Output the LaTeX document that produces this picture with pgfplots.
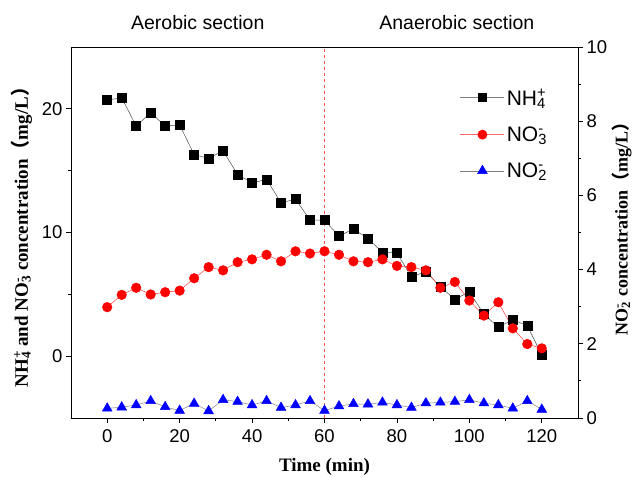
\documentclass[border=0pt]{standalone}
\usepackage{fontspec}
\setmainfont{Liberation Sans}
\newfontfamily\serif{Liberation Serif}
\newfontfamily\cjk{Noto Sans CJK SC}
\usepackage{pgfplots}
\pgfplotsset{compat=1.18}
\newcommand\ch[2]{\rlap{\textsuperscript{#2}}\textsubscript{#1}}
\begin{document}
\begin{tikzpicture}
\path[use as bounding box] (-71pt,-59pt) rectangle (567pt,418pt);
\pgfplotsset{
  every axis/.append style={
    scale only axis, width=507pt, height=371pt,
    xmin=-10, xmax=130,
    tick align=outside,
    major tick length=5pt, minor tick length=3pt,
    axis line style={line width=0.9pt},
    every tick/.style={line width=0.8pt, black},
    /pgf/number format/assume math mode=true,
    tick label style={font=\fontsize{18.5}{21}\selectfont},
    label style={font=\serif\bfseries\fontsize{19}{22}\selectfont},
  },
  legend image code/.code={\draw[mark repeat=2,mark phase=2,#1]
    plot coordinates {(0pt,0pt) (22pt,0pt) (44pt,0pt)};},
}
\begin{axis}[
  ymin=-5, ymax=25,
  xtick={0,20,...,120}, minor x tick num=1,
  ytick={0,10,20}, minor y tick num=1,
  xtick pos=bottom, ytick pos=left,
  xlabel={Time (min)},
  ylabel={NH\ch{4}{+} and NO\ch{3}{-} concentration{\cjk（}mg/L{\cjk）}},
  xlabel style={yshift=-9pt},
  ylabel style={yshift=3pt},
  xticklabel style={yshift=-3pt},
  clip=false,
]
\addplot[red!70, dashed, line width=0.5pt] coordinates {(60,-5) (60,25)};
\addplot[gray!60!black, line width=0.5pt, mark=square*, mark size=4.5pt,
  mark options={solid, fill=black, draw=black}] coordinates {
(0,20.7) (4,20.9) (8,18.6) (12,19.7) (16,18.6) (20,18.7) (24,16.3) (28,16.0)
(32,16.6) (36,14.7) (40,14.0) (44,14.3) (48,12.4) (52,12.7) (56,11.0) (60,11.0)
(64,9.7) (68,10.3) (72,9.5) (76,8.4) (80,8.35) (84,6.4) (88,6.85) (92,5.6)
(96,4.6) (100,5.2) (104,3.4) (108,2.35) (112,2.95) (116,2.46) (120,0.1)
};
\addplot[red!75, line width=0.5pt, mark=*, mark size=4.8pt,
  mark options={solid, fill=red, draw=red}] coordinates {
(0,3.96) (4,4.96) (8,5.53) (12,4.99) (16,5.17) (20,5.3) (24,6.3) (28,7.2)
(32,6.94) (36,7.6) (40,7.83) (44,8.2) (48,7.67) (52,8.48) (56,8.3) (60,8.48)
(64,8.2) (68,7.67) (72,7.6) (76,7.83) (80,7.3) (84,7.2) (88,6.94) (92,5.53)
(96,6.0) (100,4.5) (104,3.28) (108,4.36) (112,2.25) (116,0.98) (120,0.63)
};
\node[font=\fontsize{19.5}{22}\selectfont, anchor=base] at (rel axis cs:0.25,1) [yshift=17pt] {Aerobic section};
\node[font=\fontsize{19.5}{22}\selectfont, anchor=base] at (rel axis cs:0.761,1) [yshift=17pt] {Anaerobic section};
\end{axis}
\begin{axis}[
  ymin=0, ymax=10,
  axis y line*=right, axis x line=none,
  ytick={0,2,...,10}, minor y tick num=1,
  ylabel={NO\ch{2}{-} concentration{\cjk（}mg/L{\cjk）}},
  ylabel style={xshift=8pt, yshift=2pt, font=\serif\bfseries\fontsize{18}{22}\selectfont},
  legend style={draw=none, fill=none, at={(0.761,0.898)}, anchor=north west,
    row sep=16pt, legend cell align=left},
  legend style={font=\fontsize{21}{24}\selectfont},
]
\addlegendimage{gray, line width=0.8pt, mark=square*, mark size=4pt,
  mark options={fill=black, draw=black}}
\addlegendentry{NH\ch{4}{+}}
\addlegendimage{red!60, line width=0.8pt, mark=*, mark size=4.5pt,
  mark options={fill=red, draw=red}}
\addlegendentry{NO\ch{3}{-}}
\addplot[gray, line width=0.5pt, mark=triangle*, mark size=5.6pt,
  mark options={solid, fill=blue, draw=blue}] coordinates {
(0,0.26) (4,0.29) (8,0.35) (12,0.46) (16,0.30) (20,0.20) (24,0.39) (28,0.19)
(32,0.49) (36,0.44) (40,0.35) (44,0.46) (48,0.28) (52,0.35) (56,0.46) (60,0.20)
(64,0.32) (68,0.38) (72,0.37) (76,0.42) (80,0.35) (84,0.28) (88,0.40) (92,0.42)
(96,0.44) (100,0.49) (104,0.40) (108,0.35) (112,0.26) (116,0.46) (120,0.23)
};
\addlegendentry{NO\ch{2}{-}}
\end{axis}
\end{tikzpicture}
\end{document}
